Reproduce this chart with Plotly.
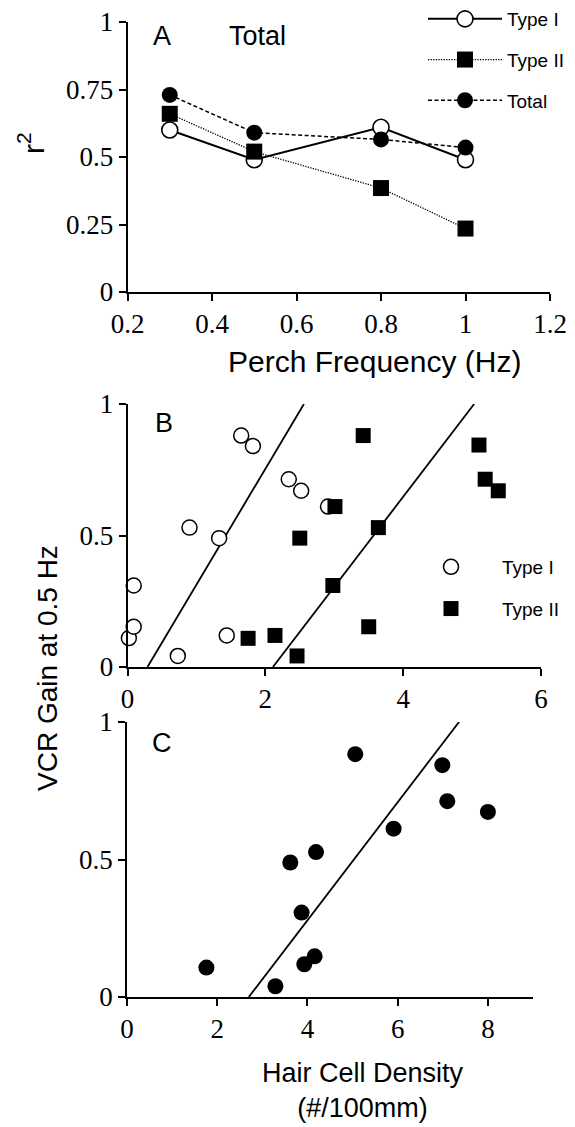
import plotly.graph_objects as go

# ---------------- Panel A data ----------------
freq = [0.3, 0.5, 0.8, 1.0]
r2_type1 = [0.60, 0.49, 0.61, 0.49]
r2_type2 = [0.66, 0.52, 0.385, 0.235]
r2_total = [0.73, 0.59, 0.565, 0.535]

# ---------------- Panel B data ----------------
b_type1_x = [0.02, 0.09, 0.09, 0.73, 0.90, 1.33, 1.44, 1.65, 1.82, 2.34, 2.52, 2.91]
b_type1_y = [0.11, 0.153, 0.31, 0.042, 0.53, 0.49, 0.12, 0.88, 0.84, 0.714, 0.67, 0.61]
b_type2_x = [1.75, 2.14, 2.46, 2.50, 2.98, 3.01, 3.42, 3.50, 3.64, 5.10, 5.19, 5.38]
b_type2_y = [0.109, 0.12, 0.042, 0.49, 0.31, 0.61, 0.88, 0.153, 0.53, 0.844, 0.714, 0.67]
b_fit1_x = [0.29, 2.56]
b_fit1_y = [0.0, 1.0]
b_fit2_x = [2.11, 5.03]
b_fit2_y = [0.0, 1.0]

# ---------------- Panel C data ----------------
c_x = [1.76, 3.29, 3.62, 3.87, 3.93, 4.16, 4.19, 5.06, 5.91, 6.99, 7.10, 8.00]
c_y = [0.107, 0.039, 0.489, 0.307, 0.119, 0.148, 0.527, 0.883, 0.612, 0.843, 0.712, 0.673]
c_fit_x = [2.70, 7.36]
c_fit_y = [0.0, 1.0]

# tick labels
a_xticks = [0.2, 0.4, 0.6, 0.8, 1.0, 1.2]
a_xtext = ["0.2", "0.4", "0.6", "0.8", "1", "1.2"]
a_yticks = [0, 0.25, 0.5, 0.75, 1]
a_ytext = ["0", "0.25", "0.5", "0.75", "1"]
b_xticks = [0, 2, 4, 6]
c_xticks = [0, 2, 4, 6, 8]
bc_yticks = [0, 0.5, 1]
bc_ytext = ["0", "0.5", "1"]

W, H = 575, 1127
SANS = "Liberation Sans"
SERIF = "Liberation Serif, DejaVu Serif, serif"

fig = go.Figure()

# Panel A
fig.add_trace(go.Scatter(x=freq, y=r2_type1, mode="lines+markers", name="Type I",
                         line=dict(color="black", width=2, dash="solid"),
                         marker=dict(symbol="circle", size=16, color="white",
                                     line=dict(color="black", width=1.6)),
                         xaxis="x", yaxis="y", legend="legend", legendgroup="a1",
                         cliponaxis=False))
fig.add_trace(go.Scatter(x=freq, y=r2_type2, mode="lines+markers", name="Type II",
                         line=dict(color="black", width=1.3, dash="1.3px,1.3px"),
                         marker=dict(symbol="square", size=16, color="black"),
                         xaxis="x", yaxis="y", legend="legend", legendgroup="a2",
                         cliponaxis=False))
fig.add_trace(go.Scatter(x=freq, y=r2_total, mode="lines+markers", name="Total",
                         line=dict(color="black", width=1.5, dash="4px,2.5px"),
                         marker=dict(symbol="circle", size=16, color="black"),
                         xaxis="x", yaxis="y", legend="legend", legendgroup="a3",
                         cliponaxis=False))

# Panel B
fig.add_trace(go.Scatter(x=b_fit1_x, y=b_fit1_y, mode="lines", showlegend=False,
                         line=dict(color="black", width=1.8), xaxis="x2", yaxis="y2"))
fig.add_trace(go.Scatter(x=b_fit2_x, y=b_fit2_y, mode="lines", showlegend=False,
                         line=dict(color="black", width=1.8), xaxis="x2", yaxis="y2"))
fig.add_trace(go.Scatter(x=b_type1_x, y=b_type1_y, mode="markers", name="Type I",
                         marker=dict(symbol="circle", size=15, color="white",
                                     line=dict(color="black", width=1.5)),
                         xaxis="x2", yaxis="y2", legend="legend2", legendgroup="b1",
                         cliponaxis=False))
fig.add_trace(go.Scatter(x=b_type2_x, y=b_type2_y, mode="markers", name="Type II",
                         marker=dict(symbol="square", size=15, color="black"),
                         xaxis="x2", yaxis="y2", legend="legend2", legendgroup="b2",
                         cliponaxis=False))

# Panel C
fig.add_trace(go.Scatter(x=c_fit_x, y=c_fit_y, mode="lines", showlegend=False,
                         line=dict(color="black", width=1.8), xaxis="x3", yaxis="y3"))
fig.add_trace(go.Scatter(x=c_x, y=c_y, mode="markers", showlegend=False,
                         marker=dict(symbol="circle", size=16, color="black"),
                         xaxis="x3", yaxis="y3", cliponaxis=False))


def ax(**kw):
    d = dict(showline=True, linecolor="black", linewidth=1.5, ticks="outside",
             ticklen=7, tickwidth=1.5, tickcolor="black", showgrid=False,
             zeroline=False, automargin=False, fixedrange=True,
             tickfont=dict(family=SERIF, size=27, color="black"))
    d.update(kw)
    return d


def px2x(p):
    return p / W


def px2y(p):
    return 1 - p / H


fig.update_layout(
    width=W, height=H, margin=dict(l=0, r=0, t=0, b=0, autoexpand=False),
    paper_bgcolor="white", plot_bgcolor="white",
    xaxis=ax(domain=[px2x(127.5), px2x(550)], range=[0.2, 1.2], tickvals=a_xticks,
             ticktext=a_xtext, anchor="y"),
    yaxis=ax(domain=[px2y(292), px2y(22)], range=[0, 1], tickvals=a_yticks,
             ticktext=a_ytext, anchor="x"),
    xaxis2=ax(domain=[px2x(127.5), px2x(541)], range=[0, 6], tickvals=b_xticks, anchor="y2"),
    yaxis2=ax(domain=[px2y(667), px2y(404)], range=[0, 1], tickvals=bc_yticks,
              ticktext=bc_ytext, anchor="x2"),
    xaxis3=ax(domain=[px2x(127), px2x(533)], range=[0, 9], tickvals=c_xticks, anchor="y3"),
    yaxis3=ax(domain=[px2y(997), px2y(722)], range=[0, 1], tickvals=bc_yticks,
              ticktext=bc_ytext, anchor="x3"),
    legend=dict(x=px2x(423), y=px2y(0), xanchor="left", yanchor="top",
                font=dict(family=SANS, size=19, color="black"), itemwidth=74,
                tracegroupgap=13, traceorder="grouped", bgcolor="rgba(0,0,0,0)"),
    legend2=dict(x=px2x(400), y=px2y(548), xanchor="left", yanchor="top",
                 font=dict(family=SANS, size=19, color="black"), itemwidth=92,
                 tracegroupgap=14, traceorder="grouped", bgcolor="rgba(0,0,0,0)"),
    showlegend=True,
)

ann = [
    dict(text="A", x=px2x(162), y=px2y(36)),
    dict(text="Total", x=px2x(257), y=px2y(36)),
    dict(text="B", x=px2x(164), y=px2y(423)),
    dict(text="C", x=px2x(162), y=px2y(743)),
    dict(text="Perch Frequency (Hz)", x=px2x(374), y=px2y(361), size=30),
    dict(text="Hair Cell Density<br>(#/100mm)", x=px2x(363), y=px2y(1090), size=27),
    dict(text="r<sup>2</sup>", x=px2x(31), y=px2y(143), size=30, angle=-90),
    dict(text="VCR Gain at 0.5 Hz", x=px2x(47), y=px2y(668), size=28, angle=-90),
]
for a in ann:
    fig.add_annotation(text=a["text"], x=a["x"], y=a["y"], xref="paper", yref="paper",
                       showarrow=False, xanchor="center", yanchor="middle",
                       textangle=a.get("angle", 0),
                       font=dict(family=SANS, size=a.get("size", 27), color="black"))

fig.write_html("out.html")
